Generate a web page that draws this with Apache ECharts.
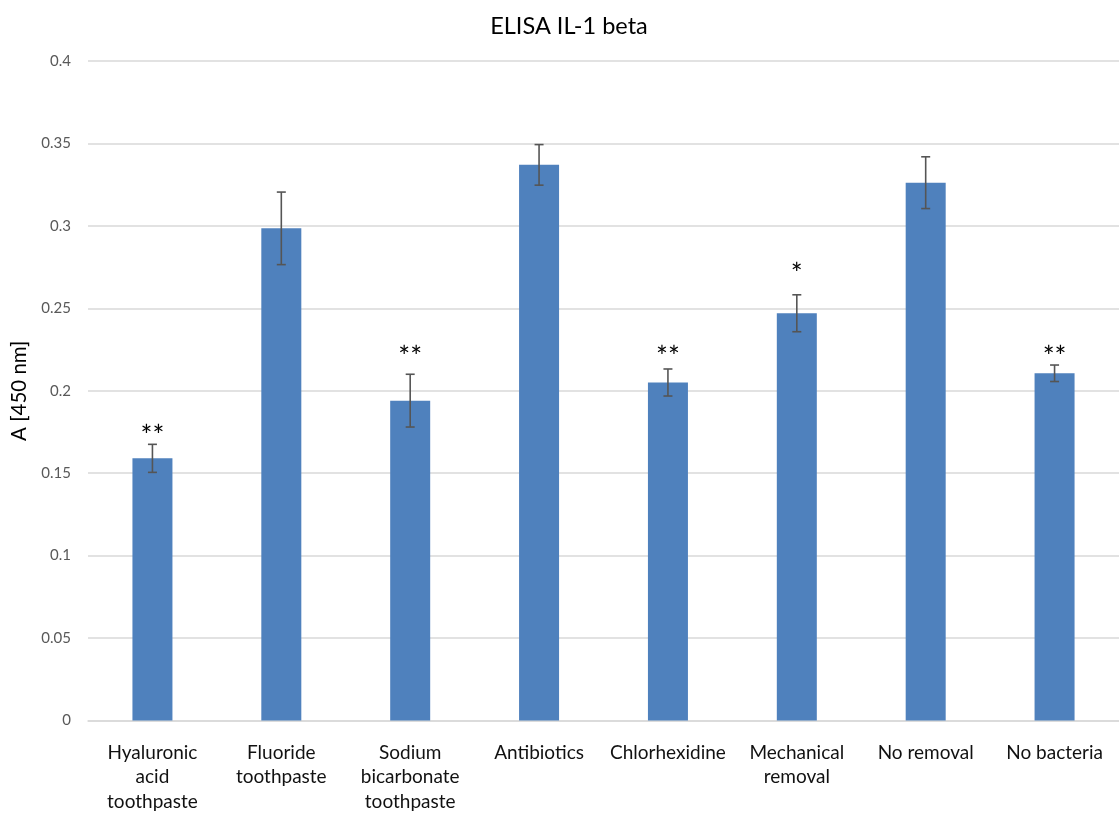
<!DOCTYPE html>
<html>
<head>
<meta charset="utf-8">
<title>ELISA IL-1 beta</title>
<script src="https://cdn.jsdelivr.net/npm/echarts@6/dist/echarts.min.js"></script>
<style>
  html, body { margin: 0; padding: 0; background: #ffffff; }
  #chart { width: 1119px; height: 814px; }
</style>
</head>
<body>
<div id="chart"></div>
<script>
// Treatment groups shown along the x axis
const categories = [
  'Hyaluronic\nacid\ntoothpaste',
  'Fluoride\ntoothpaste',
  'Sodium\nbicarbonate\ntoothpaste',
  'Antibiotics',
  'Chlorhexidine',
  'Mechanical\nremoval',
  'No removal',
  'No bacteria'
];

// Mean absorbance at 450 nm
const means = [0.159, 0.2985, 0.194, 0.337, 0.205, 0.247, 0.3262, 0.2106];

// Standard deviation of each group (symmetric error bars)
const errors = [0.0085, 0.022, 0.016, 0.0123, 0.0082, 0.0112, 0.0157, 0.005];

// Significance markers and the height at which each one is written
const sigMarks = ['**', '', '**', '', '**', '*', '', '**'];
const sigLevels = [0.1719, null, 0.2196, null, 0.2196, 0.2703, null, 0.2196];

// Y axis range
const yMin = 0;
const yMax = 0.4;
const yStep = 0.05;

const FONT = 'Lato, "Open Sans", "Liberation Sans", sans-serif';

const errorData = means.map((m, i) => [i, m - errors[i], m + errors[i]]);
const sigData = sigMarks
  .map((t, i) => (t ? [i, sigLevels[i], t] : null))
  .filter(d => d !== null);

const chart = echarts.init(document.getElementById('chart'), null, { renderer: 'canvas' });

chart.setOption({
  backgroundColor: '#ffffff',
  animation: false,
  title: {
    text: 'ELISA IL-1 beta',
    left: 564,
    top: 9,
    textAlign: 'center',
    textStyle: { fontFamily: FONT, fontSize: 23.5, fontWeight: 'normal', color: '#000000' }
  },
  grid: { left: 88, top: 61, bottom: 90, width: 1040, containLabel: false },
  xAxis: {
    type: 'category',
    data: categories,
    axisLine: { show: true, lineStyle: { color: '#d9d9d9', width: 1.5 } },
    axisTick: { show: false },
    axisLabel: {
      interval: 0,
      margin: 20,
      fontFamily: FONT,
      fontSize: 19,
      lineHeight: 24.5,
      color: '#111111',
      align: 'center'
    }
  },
  yAxis: {
    type: 'value',
    min: yMin,
    max: yMax,
    interval: yStep,
    name: 'A [450 nm]',
    nameLocation: 'middle',
    nameGap: 58,
    nameRotate: 90,
    nameTextStyle: { fontFamily: FONT, fontSize: 20.5, color: '#000000' },
    axisLine: { show: false },
    axisTick: { show: false },
    axisLabel: {
      margin: 17,
      fontFamily: FONT,
      fontSize: 15,
      color: '#595959',
      formatter: v => String(parseFloat(v.toFixed(2)))
    },
    splitLine: { show: true, lineStyle: { color: '#d9d9d9', width: 1.5 } }
  },
  series: [
    {
      type: 'bar',
      data: means,
      barWidth: 40,
      itemStyle: { color: '#4f81bd' }
    },
    {
      // error bars: vertical stem with caps at mean ± SD
      type: 'custom',
      data: errorData,
      z: 5,
      renderItem: function (params, api) {
        const x = api.value(0);
        const lo = api.coord([x, api.value(1)]);
        const hi = api.coord([x, api.value(2)]);
        const cap = 4.5;
        const style = { stroke: '#555555', lineWidth: 1.6 };
        return {
          type: 'group',
          children: [
            { type: 'line', shape: { x1: hi[0], y1: hi[1], x2: lo[0], y2: lo[1] }, style: style },
            { type: 'line', shape: { x1: hi[0] - cap, y1: hi[1], x2: hi[0] + cap, y2: hi[1] }, style: style },
            { type: 'line', shape: { x1: lo[0] - cap, y1: lo[1], x2: lo[0] + cap, y2: lo[1] }, style: style }
          ]
        };
      }
    },
    {
      // significance asterisks above bars
      type: 'custom',
      data: sigData,
      z: 6,
      renderItem: function (params, api) {
        const p = api.coord([api.value(0), api.value(1)]);
        return {
          type: 'text',
          style: {
            text: sigData[params.dataIndex][2],
            x: p[0],
            y: p[1],
            align: 'center',
            verticalAlign: 'middle',
            font: '28px ' + FONT,
            fill: '#000000'
          }
        };
      }
    }
  ]
});
</script>
</body>
</html>
